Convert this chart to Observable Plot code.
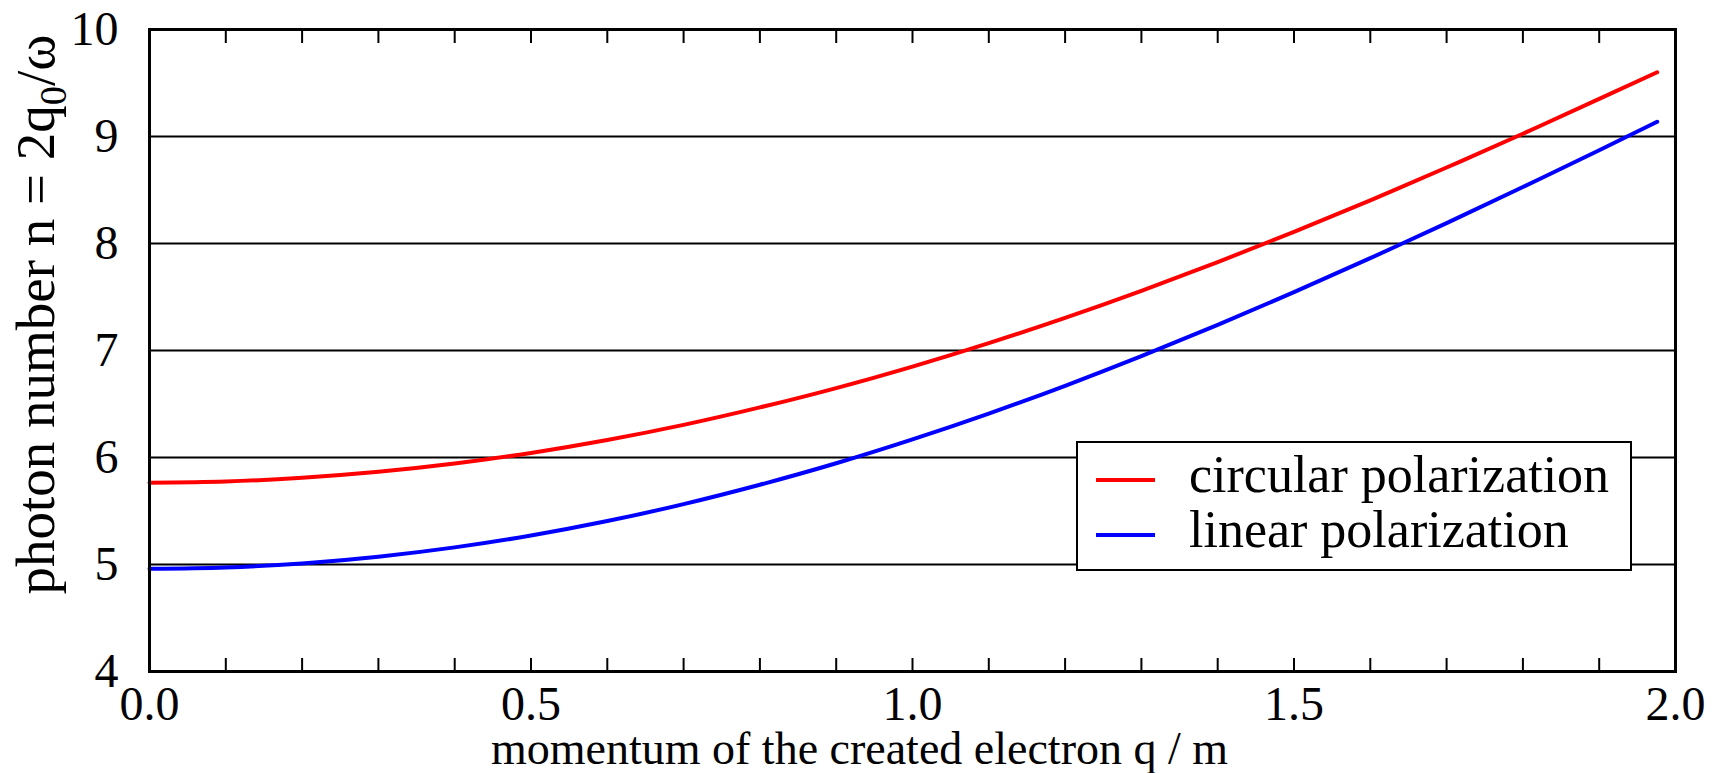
<!DOCTYPE html>
<html>
<head>
<meta charset="utf-8">
<script src="https://cdn.jsdelivr.net/npm/d3@7"></script>
<script src="https://cdn.jsdelivr.net/npm/@observablehq/plot@0.6"></script>
<style>
  html, body { margin: 0; padding: 0; background: #fff; }
  #chart svg { display: block; }
</style>
</head>
<body>
<div id="chart"></div>
<script>
// ---- data ----
const q = [0, 0.1, 0.2, 0.3, 0.4, 0.5, 0.6, 0.7, 0.8, 0.9, 1.0, 1.1, 1.2, 1.3, 1.4, 1.5, 1.6, 1.7, 1.8, 1.9, 1.976];
const circular = [5.765, 5.776, 5.810, 5.866, 5.943, 6.043, 6.164, 6.305, 6.468, 6.649, 6.850, 7.069, 7.305, 7.558, 7.826, 8.108, 8.403, 8.710, 9.026, 9.352, 9.600];
const linear = [4.960, 4.973, 5.010, 5.073, 5.160, 5.271, 5.406, 5.564, 5.745, 5.946, 6.169, 6.410, 6.670, 6.947, 7.239, 7.545, 7.863, 8.191, 8.528, 8.872, 9.138];
const seriesNames = ["circular polarization", "linear polarization"];
const seriesColors = ["#ff0000", "#0000ff"];
const yTicks = [4, 5, 6, 7, 8, 9, 10];
const gridY = [5, 6, 7, 8, 9];
const xTickLabels = [0, 0.5, 1.0, 1.5, 2.0];
const xMinorTicks = [0.1, 0.2, 0.3, 0.4, 0.5, 0.6, 0.7, 0.8, 0.9, 1.0, 1.1, 1.2, 1.3, 1.4, 1.5, 1.6, 1.7, 1.8, 1.9];
const xLabel = "momentum of the created electron q / m";
const yLabelParts = ["photon number n = 2q", "0", "/ω"];

// ---- tidy table for the library ----
const rows = [];
[circular, linear].forEach((vals, s) => {
  q.forEach((x, i) => rows.push({ q: x, n: vals[i], series: seriesNames[s] }));
});

const FONT = "Liberation Serif, Times New Roman, serif";

function legendMark(index, scales, values, dims) {
  const g = d3.create("svg:g");
  const right = dims.width - dims.marginRight;
  const bottom = dims.height - dims.marginBottom;
  const x0 = right - 598, y0 = bottom - 229, w = 554, h = 128;
  g.append("rect")
    .attr("x", x0).attr("y", y0).attr("width", w).attr("height", h)
    .attr("fill", "white").attr("stroke", "black").attr("stroke-width", 2);
  seriesNames.forEach((name, i) => {
    const yy = y0 + 38 + i * 55;
    g.append("line")
      .attr("x1", x0 + 19).attr("x2", x0 + 78).attr("y1", yy).attr("y2", yy)
      .attr("stroke", seriesColors[i]).attr("stroke-width", 4);
    g.append("text")
      .attr("x", x0 + 112).attr("y", yy + 12)
      .attr("text-anchor", "start")
      .attr("font-family", FONT).attr("font-size", 52).attr("fill", "black")
      .text(name);
  });
  return g.node();
}

const chart = Plot.plot({
  width: 1713,
  height: 773,
  marginLeft: 149,
  marginRight: 38,
  marginTop: 29,
  marginBottom: 102,
  style: { fontFamily: FONT, background: "white", color: "black" },
  x: { domain: [0, 2] },
  y: { domain: [4, 10] },
  color: { domain: seriesNames, range: seriesColors },
  marks: [
    Plot.ruleY(gridY, { stroke: "black", strokeWidth: 2 }),
    Plot.line(rows, { x: "q", y: "n", z: "series", stroke: "series", strokeWidth: 4, curve: "natural" }),
    Plot.axisX(xMinorTicks, { anchor: "bottom", tickSize: -13, text: null, strokeWidth: 2, label: null }),
    Plot.axisX(xMinorTicks, { anchor: "top", tickSize: -13, text: null, strokeWidth: 2, label: null }),
    Plot.axisX(xTickLabels, { anchor: "bottom", tickSize: 0, tickPadding: 14, tickFormat: d3.format(".1f"), fontSize: 48, label: null }),
    Plot.axisY(yTicks, { anchor: "left", tickSize: 0, tickPadding: 31, tickFormat: d3.format("d"), fontSize: 48, label: null }),
    Plot.frame({ stroke: "black", strokeWidth: 3 }),
    legendMark,
    Plot.text([xLabel], { text: d => d, frameAnchor: "bottom", dx: -53, dy: 78, fontSize: 46, textAnchor: "middle", lineAnchor: "middle" }),
    Plot.text([yLabelParts.join("")], { text: d => d, frameAnchor: "left", rotate: -90, dx: -113, dy: -36, fontSize: 55, textAnchor: "middle", lineAnchor: "middle" })
  ]
});

// subscript on the y label
const full = yLabelParts.join("");
chart.querySelectorAll("text").forEach(t => {
  if (t.textContent === full) {
    const sel = d3.select(t);
    sel.text(null);
    sel.append("tspan").text(yLabelParts[0]);
    sel.append("tspan").attr("dy", "0.3em").attr("font-size", "0.7em").text(yLabelParts[1]);
    sel.append("tspan").attr("dy", "-0.21em").text(yLabelParts[2]);
  }
});

document.getElementById("chart").appendChild(chart);
</script>
</body>
</html>
